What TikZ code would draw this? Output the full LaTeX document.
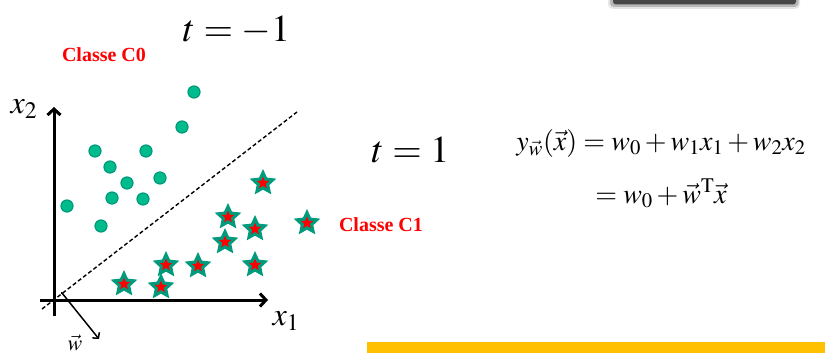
\documentclass[tikz,border=0pt]{standalone}
\usepackage{mathptmx}
\usepackage[no-math]{fontspec}
\setmainfont{Liberation Serif}
\usepackage{xcolor}
\usepackage{tikz}
\usetikzlibrary{positioning, arrows.meta, calc, shapes.geometric}
\definecolor{dotgreen}{HTML}{00BC8C}
\definecolor{dotedge}{HTML}{00997A}
\definecolor{stargreen}{HTML}{009B7D}
\definecolor{classred}{HTML}{FF0000}
\definecolor{baryellow}{HTML}{FFC000}

\begin{document}
\begin{tikzpicture}[x=1pt, y=-1pt,
    dot/.style={circle, fill=dotgreen, draw=dotedge, line width=1.2pt, minimum size=12pt, inner sep=0pt},
    bigstar/.style={star, star points=5, star point ratio=2.1, fill=stargreen, minimum size=28pt, inner sep=0pt},
    redcore/.style={star, star points=5, star point ratio=2.3, fill=classred, minimum size=13pt, inner sep=0pt},
    axis/.style={line width=3pt, -{Straight Barb[length=6pt, width=13pt]}},
    classlabel/.style={text=classred, font=\fontsize{20}{24}\selectfont\bfseries},
    mathlabel/.style={font=\fontsize{38}{44}\selectfont, anchor=base, inner sep=0pt},
    eq/.style={font=\fontsize{28}{34}\selectfont, anchor=base, inner sep=0pt}]
    \useasboundingbox[fill=white] (0,0) rectangle (825,353);

    \fill[black, opacity=0.1, rounded corners=5pt] (608,-12) rectangle (800,9);
    \fill[black, opacity=0.2, rounded corners=4pt] (610,-12) rectangle (798.5,7);
    \fill[black!72, rounded corners=3pt] (613,-12) rectangle (796,4.5);
    \fill[baryellow] (367,342) rectangle (825,353);

    \coordinate (origin) at (54,300);
    \coordinate (xstart) at (40,300);
    \coordinate (xtip) at (268,300);
    \coordinate (ystart) at (54,316);
    \coordinate (ytip) at (54,107);
    \coordinate (sepstart) at (42,309);
    \coordinate (sepend) at (297,112);
    \coordinate (wfoot) at (62,293);
    \coordinate (wtip) at (99,339);

    \draw[line width=1.4pt, dash pattern=on 4pt off 2.5pt] (sepstart) -- (sepend);
    \draw[axis] (xstart) -- (xtip);
    \draw[axis] (ystart) -- (ytip);
    \draw[line width=1.3pt] (60.5,293) -- (wfoot);
    \draw[line width=1.5pt, -{Straight Barb[length=4pt, width=9pt]}] (wfoot) -- (wtip);

    \node[font=\fontsize{32}{38}\selectfont, inner sep=0pt] (lx2) at (24,109) {$x_2$};
    \node[font=\fontsize{32}{38}\selectfont, inner sep=0pt] (lx1) at (286,321) {$x_1$};
    \node[font=\fontsize{22}{26}\selectfont, inner sep=0pt] (lw) at (75,343) {$\vec{w}$};

    \foreach \p [count=\i] in {(194,92), (182,127), (95,151), (146,151), (110,167),
        (127,183), (160,178), (112,198), (143,199), (67,206), (101,226)}
        \node[dot] (c\i) at \p {};

    \foreach \p [count=\i] in {(263,183), (228,217), (255,229), (307,223), (225,242),
        (166,265), (198,266), (255,265), (124,284), (161,287)} {
        \node[bigstar] (s\i) at \p {};
        \node[redcore] (r\i) at (s\i.center) {};
    }

    \node[classlabel] (c0) at (104,55) {Classe C0};
    \node[classlabel] (c1) at (381,225) {Classe C1};

    \node[mathlabel] (tneg) at (236.5,42) {$t=-1$};
    \node[mathlabel] (tpos) at (410.5,162) {$t=1$};

    \node[eq] (eq1) at (661,150) {$y_{\vec{w}}(\vec{x})=w_0+w_1x_1+w_2x_2$};
    \node[eq] (eq2) at (661,203) {$=w_0+\vec{w}^{\mathrm{T}}\vec{x}$};
\end{tikzpicture}
\end{document}
